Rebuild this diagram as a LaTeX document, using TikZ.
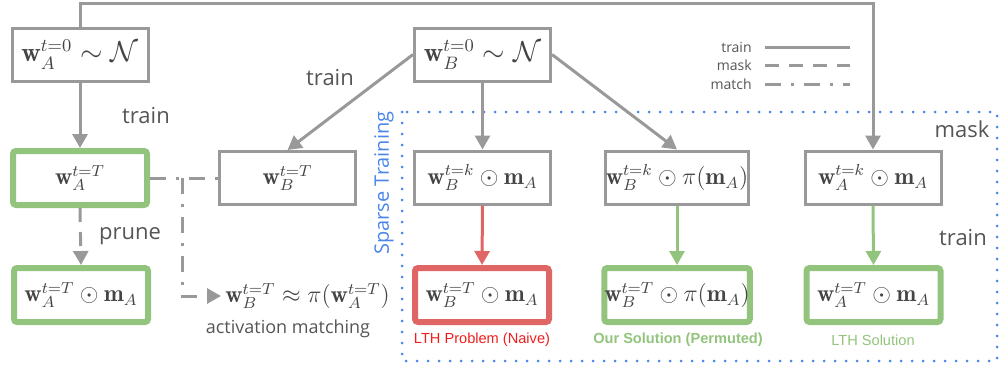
\documentclass[tikz,border=0pt]{standalone}
\usepackage{fontspec}
\usetikzlibrary{arrows.meta}
\newfontfamily\labelfont{Open Sans}
\newfontfamily\arialfont{Liberation Sans}
\definecolor{linegray}{HTML}{999999}
\definecolor{textgray}{HTML}{444444}
\definecolor{labelgray}{HTML}{555555}
\definecolor{okgreen}{HTML}{93C47D}
\definecolor{badred}{HTML}{E06666}
\definecolor{brightred}{HTML}{F01E1E}
\definecolor{sparseblue}{HTML}{4A86E8}

\tikzset{
  box/.style={draw=linegray, line width=1.5pt, minimum width=68pt, minimum height=26.5pt,
    inner sep=0pt, fill=white, text=textgray, font=\fontsize{12}{14}\selectfont},
  topbox/.style={box, font=\fontsize{13.5}{15}\selectfont},
  goodbox/.style={box, draw=okgreen, line width=3pt, rounded corners=1.5pt,
    minimum width=67pt, minimum height=27pt},
  badbox/.style={goodbox, draw=badred},
  tip/.style={-{Triangle[length=7pt,width=7.5pt]}},
  trainline/.style={draw=linegray, line width=1.5pt},
  maskline/.style={trainline, dash pattern=on 7pt off 5pt},
  matchline/.style={trainline, dash pattern=on 8pt off 5pt on 1.5pt off 5pt},
  lbl/.style={text=labelgray, font=\labelfont\fontsize{11}{13}\selectfont, inner sep=0pt},
  legendlbl/.style={text=labelgray, font=\labelfont\fontsize{7}{9}\selectfont, inner sep=0pt, anchor=east},
  caption/.style={font=\arialfont\fontsize{7.3}{8}\selectfont, inner sep=0pt},
}

\begin{document}
\begin{tikzpicture}[x=0.5pt, y=-0.5pt]
  \useasboundingbox (0,0) rectangle (1000,364);

  % sparse training region
  \draw[sparseblue, line width=1.5pt, line cap=round, dash pattern=on 0pt off 5.5pt]
    (402,112) rectangle (997,361);
  \node[rotate=90, text=sparseblue, font=\labelfont\fontsize{10}{12}\selectfont, inner sep=0pt]
    (sparse) at (384,183) {Sparse Training};

  % initialisations
  \node[topbox] (a0) at (80,54.5) {$\mathbf{w}_A^{t=0}\sim\mathcal{N}$};
  \node[topbox] (b0) at (482.5,54.5) {$\mathbf{w}_B^{t=0}\sim\mathcal{N}$};

  % trained / masked networks
  \node[goodbox] (aT) at (80,178) {$\mathbf{w}_A^{t=T}$};
  \node[box] (bT) at (287.5,178) {$\mathbf{w}_B^{t=T}$};
  \node[box] (bk) at (482.5,177.5) {$\mathbf{w}_B^{t=k}\odot\mathbf{m}_A$};
  \node[box] (bkp) at (677,177.5) {$\mathbf{w}_B^{t=k}\odot\pi(\mathbf{m}_A)$};
  \node[box] (ak) at (873,177.5) {$\mathbf{w}_A^{t=k}\odot\mathbf{m}_A$};

  \node[goodbox] (aTm) at (81,295) {$\mathbf{w}_A^{t=T}\odot\mathbf{m}_A$};
  \node[badbox] (bTm) at (482,295) {$\mathbf{w}_B^{t=T}\odot\mathbf{m}_A$};
  \node[goodbox] (bTp) at (677,295) {$\mathbf{w}_B^{t=T}\odot\pi(\mathbf{m}_A)$};
  \node[goodbox] (aTk) at (873.5,295) {$\mathbf{w}_A^{t=T}\odot\mathbf{m}_A$};

  % matching result
  \node[anchor=west, inner sep=2pt, text=textgray, font=\fontsize{12}{14}\selectfont]
    (fm) at (221,296) {$\mathbf{w}_B^{t=T}\approx\pi(\mathbf{w}_A^{t=T})$};
  \node[text=labelgray, font=\labelfont\fontsize{9}{11}\selectfont, inner sep=0pt]
    (actm) at (288,329) {activation matching};

  % captions
  \node[caption, text=brightred] (cap1) at (482,340) {LTH Problem (Naive)};
  \node[caption, text=okgreen, font=\arialfont\bfseries\fontsize{7.3}{8}\selectfont] (cap2) at (678,340) {Our Solution (Permuted)};
  \node[caption, text=okgreen] (cap3) at (873,340) {LTH Solution};

  % connectors
  \coordinate (top) at (0,3);
  \draw[trainline, tip] (a0.north) -- (a0.north |- top) -| (ak.north);
  \draw[trainline, tip] (a0.south) -- (aT.north);
  \draw[trainline, tip] (b0.west) -- (bT.north);
  \draw[trainline, tip] (b0.south) -- (bk.north);
  \draw[trainline, tip] (b0.east) -- (bkp.north);
  \draw[maskline, tip] (aT.south) -- (aTm.north);
  \draw[trainline, tip, draw=badred, fill=badred] (bk.south) -- (bTm.north);
  \draw[trainline, tip, draw=okgreen, fill=okgreen] (bkp.south) -- (bTp.north);
  \draw[trainline, tip, draw=okgreen, fill=okgreen] (ak.south) -- (aTk.north);
  \coordinate (jn) at (182,178);
  \draw[matchline] (aT.east) -- (bT.west);
  \draw[matchline, tip] (jn) |- (fm.west);

  % edge labels
  \node[lbl] (l1) at (146,116) {train};
  \node[lbl] (l2) at (330,78) {train};
  \node[lbl] (l3) at (130,236) {prune};
  \node[lbl] (l4) at (962,129) {mask};
  \node[lbl] (l5) at (963,238) {train};

  % legend
  \node[legendlbl] (lg1) at (752,47) {train};
  \node[legendlbl] (lg2) at (752,65) {mask};
  \node[legendlbl] (lg3) at (752,84) {match};
  \coordinate (lg1a) at (765,47); \coordinate (lg1b) at (850,47);
  \coordinate (lg2a) at (765,65); \coordinate (lg2b) at (850,65);
  \coordinate (lg3a) at (765,84); \coordinate (lg3b) at (850,84);
  \draw[trainline] (lg1a) -- (lg1b);
  \draw[maskline] (lg2a) -- (lg2b);
  \draw[matchline] (lg3a) -- (lg3b);
\end{tikzpicture}
\end{document}
